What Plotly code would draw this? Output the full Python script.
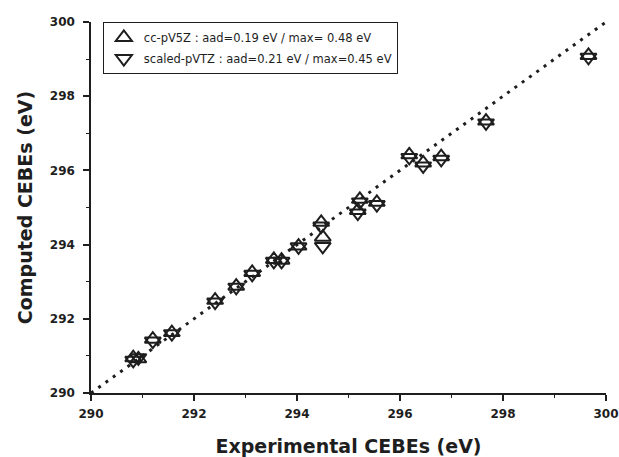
import plotly.graph_objects as go

# Data
experimental = [290.82, 290.92, 291.20, 291.57, 292.41, 292.82, 293.13, 293.55, 293.70, 294.03,
                294.47, 294.50, 295.18, 295.22, 295.55, 296.18, 296.45, 296.80, 297.67, 299.66]
cc_pv5z = [290.95, 290.92, 291.45, 291.63, 292.50, 292.88, 293.25, 293.60, 293.58, 293.96,
           294.60, 294.20, 294.92, 295.22, 295.14, 296.42, 296.20, 296.37, 297.33, 299.10]
scaled_pvtz = [290.88, 290.95, 291.40, 291.60, 292.45, 292.85, 293.20, 293.55, 293.55, 293.94,
               294.50, 293.95, 294.85, 295.15, 295.08, 296.35, 296.12, 296.30, 297.28, 299.05]
ref_line = [290, 300]
tick_vals = [290, 292, 294, 296, 298, 300]
tick_text = ["290", "292", "294", "296", "298", "300"]

INK = "#1e1e1e"
FONT = "DejaVu Sans, Liberation Sans, Arial, sans-serif"

fig = go.Figure()
fig.add_trace(go.Scatter(
    x=ref_line, y=ref_line, mode="lines", showlegend=False, hoverinfo="skip",
    line=dict(color=INK, width=3, dash="3px,6px"),
))
fig.add_trace(go.Scatter(
    x=experimental, y=cc_pv5z, mode="markers", legendgroup="a",
    name="cc-pV5Z : aad=0.19 eV / max= 0.48 eV",
    marker=dict(symbol="triangle-up-open", size=14, color=INK, line=dict(width=2, color=INK)),
))
fig.add_trace(go.Scatter(
    x=experimental, y=scaled_pvtz, mode="markers", legendgroup="b",
    name="scaled-pVTZ : aad=0.21 eV / max=0.45 eV",
    marker=dict(symbol="triangle-down-open", size=14, color=INK, line=dict(width=2, color=INK)),
))

axis_common = dict(
    range=[290, 300], tickvals=tick_vals, ticktext=tick_text,
    showline=True, linecolor=INK, linewidth=1.5, mirror=False,
    ticks="outside", ticklen=6, tickwidth=1.5, tickcolor=INK,
    minor=dict(ticks="outside", ticklen=3, tickwidth=1, tickcolor=INK, dtick=1),
    showgrid=False, zeroline=False, automargin=False,
    tickfont=dict(family=FONT, size=12, color=INK, weight="bold"),
)

fig.update_layout(
    width=619, height=457,
    margin=dict(l=91, r=13, t=22, b=64),
    paper_bgcolor="white", plot_bgcolor="white",
    xaxis=dict(**axis_common, ticklabelstandoff=3,
               title=dict(text="Experimental CEBEs (eV)", standoff=23,
                          font=dict(family=FONT, size=19, color=INK, weight="bold"))),
    yaxis=dict(**axis_common, ticklabelstandoff=6,
               title=dict(text="Computed CEBEs (eV)", standoff=12,
                          font=dict(family=FONT, size=19, color=INK, weight="bold"))),
    legend=dict(x=0.023, y=1.0, xanchor="left", yanchor="top",
                bordercolor=INK, borderwidth=1, bgcolor="white",
                font=dict(family=FONT, size=11.5, color=INK),
                itemwidth=30, tracegroupgap=2),
)

fig.write_html(
    "out.html",
    config={"displayModeBar": False},
    post_script="document.body.style.margin='0';document.body.style.overflow='hidden';"
                "document.documentElement.style.overflow='hidden';",
)
